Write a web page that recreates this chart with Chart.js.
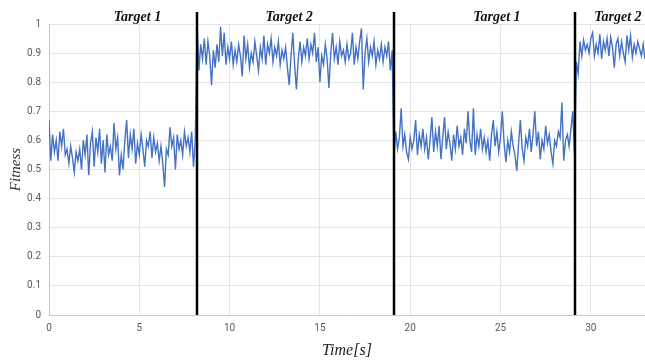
<!DOCTYPE html>
<html>
<head>
<meta charset="utf-8">
<script src="https://cdn.jsdelivr.net/npm/chart.js@4.4.1/dist/chart.umd.min.js"></script>
<style>
  html, body { margin: 0; padding: 0; background: #fff; }
  #wrap { width: 645px; height: 360px; }
</style>
</head>
<body>
<div id="wrap"><canvas id="fitChart" width="645" height="360"></canvas></div>
<script>
// sampling step of the recorded fitness trace, seconds
const SAMPLE_DT = 0.1;

// fitness per phase (t = 0 .. 8.2)
const phaseTarget1a = [
  0.67, 0.53, 0.62, 0.56, 0.60, 0.53, 0.63, 0.58, 0.64, 0.55,
  0.57, 0.52, 0.58, 0.54, 0.49, 0.56, 0.53, 0.57, 0.50, 0.60,
  0.55, 0.62, 0.48, 0.59, 0.63, 0.51, 0.61, 0.56, 0.64, 0.52,
  0.60, 0.49, 0.62, 0.55, 0.58, 0.53, 0.66, 0.57, 0.61, 0.48,
  0.55, 0.50, 0.60, 0.67, 0.54, 0.62, 0.57, 0.64, 0.52, 0.59,
  0.55, 0.62, 0.57, 0.51, 0.60, 0.58, 0.63, 0.54, 0.61, 0.56,
  0.59, 0.53, 0.58, 0.52, 0.44, 0.57, 0.55, 0.645, 0.58, 0.61,
  0.50, 0.62, 0.57, 0.60, 0.55, 0.63, 0.58, 0.61, 0.56, 0.63,
  0.51, 0.60, 1.00
];

// t = 8.3 .. 19.1
const phaseTarget2a = [
  0.84, 0.93, 0.88, 0.95, 0.86, 0.94, 0.89, 0.79, 0.91, 0.85,
  0.93, 0.87, 0.99, 0.89, 0.97, 0.86, 0.92, 0.88, 0.94, 0.86,
  0.91, 0.87, 0.93, 0.89, 0.82, 0.96, 0.88, 0.93, 0.85, 0.90,
  0.87, 0.94, 0.89, 0.84, 0.92, 0.88, 0.96, 0.86, 0.93, 0.90,
  0.95, 0.87, 0.92, 0.89, 0.94, 0.86, 0.91, 0.88, 0.92, 0.85,
  0.79, 0.89, 0.97, 0.86, 0.775, 0.88, 0.94, 0.87, 0.92, 0.89,
  0.95, 0.88, 0.93, 0.90, 0.97, 0.87, 0.92, 0.80, 0.89, 0.86,
  0.93, 0.88, 0.78, 0.90, 0.97, 0.88, 0.92, 0.86, 0.94, 0.89,
  0.91, 0.87, 0.93, 0.88, 0.90, 0.97, 0.86, 0.92, 0.88, 0.94,
  0.985, 0.775, 0.90, 0.95, 0.87, 0.92, 0.89, 0.94, 0.86, 0.91,
  0.88, 0.93, 0.87, 0.92, 0.89, 0.94, 0.84, 0.91, 0.55
];

// t = 19.2 .. 29.1
const phaseTarget1b = [
  0.63, 0.57, 0.61, 0.71, 0.58, 0.62, 0.56, 0.535, 0.61, 0.57,
  0.60, 0.67, 0.55, 0.62, 0.58, 0.64, 0.57, 0.61, 0.535, 0.60,
  0.68, 0.56, 0.63, 0.58, 0.65, 0.535, 0.61, 0.68, 0.57, 0.63,
  0.59, 0.53, 0.62, 0.57, 0.65, 0.58, 0.61, 0.55, 0.64, 0.59,
  0.70, 0.60, 0.56, 0.71, 0.55, 0.62, 0.58, 0.64, 0.57, 0.61,
  0.56, 0.60, 0.53, 0.62, 0.67, 0.58, 0.63, 0.56, 0.61, 0.70,
  0.59, 0.525, 0.60, 0.56, 0.63, 0.58, 0.55, 0.495, 0.59, 0.67,
  0.57, 0.53, 0.61, 0.58, 0.64, 0.56, 0.62, 0.70, 0.58, 0.63,
  0.535, 0.60, 0.57, 0.65, 0.59, 0.62, 0.56, 0.52, 0.60, 0.58,
  0.63, 0.61, 0.73, 0.53, 0.60, 0.62, 0.58, 0.64, 0.70, 0.55
];

// t = 29.2 .. 33.0
const phaseTarget2b = [
  0.87, 0.83, 0.94, 0.89, 0.945, 0.91, 0.93, 0.90, 0.95, 0.97,
  0.89, 0.93, 0.90, 0.965, 0.88, 0.94, 0.91, 0.95, 0.89, 0.955,
  0.92, 0.85, 0.93, 0.95, 0.89, 0.94, 0.90, 0.87, 0.96, 0.91,
  0.96, 0.885, 0.93, 0.90, 0.94, 0.915, 0.89, 0.93, 0.88
];

// target switches (s) and the captions above each phase
const switchTimes = [8.2, 19.1, 29.1];
const targetLabels = ["Target 1", "Target 2", "Target 1", "Target 2"];
const targetLabelAt = [4.9, 13.3, 24.8, 31.5];

const xTicks = [0, 5, 10, 15, 20, 25, 30];
const X_MAX = 33;

const fitness = [...phaseTarget1a, ...phaseTarget2a, ...phaseTarget1b, ...phaseTarget2b];
const points = fitness.map((v, i) => ({ x: +(i * SAMPLE_DT).toFixed(1), y: v }));

const TICK_FONT = { family: "Roboto, 'Liberation Sans', sans-serif", size: 10 };
const SERIF = "'Liberation Serif', 'DejaVu Serif', serif";

// ---------------- switch lines + target captions ----------------
const targetPlugin = {
  id: "targets",
  afterDatasetsDraw(chart) {
    const { ctx, chartArea, scales } = chart;
    const x = scales.x;
    ctx.save();
    ctx.strokeStyle = "#000";
    ctx.lineWidth = 2.5;
    switchTimes.forEach((t) => {
      const px = Math.round(x.getPixelForValue(t));
      ctx.beginPath();
      ctx.moveTo(px, chartArea.top - 12);
      ctx.lineTo(px, chartArea.bottom);
      ctx.stroke();
    });
    ctx.fillStyle = "#111";
    ctx.font = `italic bold 14px ${SERIF}`;
    ctx.textAlign = "center";
    ctx.textBaseline = "middle";
    targetLabels.forEach((lab, i) => {
      ctx.fillText(lab, x.getPixelForValue(targetLabelAt[i]), chartArea.top - 7);
    });
    ctx.restore();
  },
};

new Chart(document.getElementById("fitChart"), {
  type: "line",
  data: {
    datasets: [{
      data: points,
      borderColor: "#4472C4",
      borderWidth: 1.4,
      pointRadius: 0,
      tension: 0,
      fill: false,
    }],
  },
  options: {
    responsive: false,
    animation: false,
    layout: { padding: { top: 24, right: 0, left: 0, bottom: 0 } },
    plugins: { legend: { display: false }, tooltip: { enabled: false } },
    scales: {
      x: {
        type: "linear",
        min: 0,
        max: X_MAX,
        afterBuildTicks: (s) => { s.ticks = xTicks.map((v) => ({ value: v })); },
        afterFit: (s) => { s.height = 45; },
        ticks: { color: "#595959", font: TICK_FONT, padding: 7, maxRotation: 0 },
        grid: { color: "#e4e4e4", drawTicks: false },
        border: { color: "#c8c8c8" },
        title: {
          display: true,
          text: "Time[s]",
          color: "#222",
          font: { family: SERIF, size: 16, style: "italic" },
          padding: { top: 0, bottom: 0 },
        },
      },
      y: {
        min: 0,
        max: 1,
        afterFit: (s) => { s.width = 49; },
        ticks: {
          stepSize: 0.1,
          color: "#595959",
          font: TICK_FONT,
          padding: 8,
          callback: (v) => String(Number(v.toFixed(1))),
        },
        grid: { color: "#e4e4e4", drawTicks: false },
        border: { color: "#c8c8c8" },
        title: {
          display: true,
          text: "Fitness",
          color: "#333",
          font: { family: SERIF, size: 15, style: "italic" },
          padding: { top: 7, bottom: 0 },
        },
      },
    },
  },
  plugins: [targetPlugin],
});
</script>
</body>
</html>
